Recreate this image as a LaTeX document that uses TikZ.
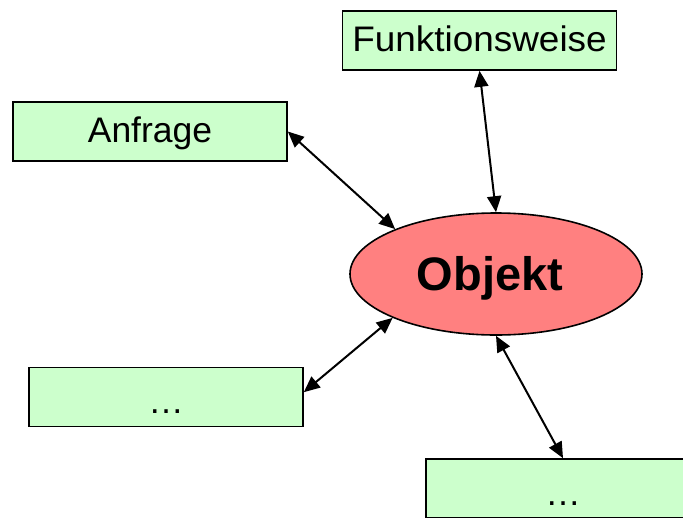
\documentclass[tikz,border=0pt]{standalone}
\usepackage{fontspec}
\setmainfont{Liberation Sans}
\usetikzlibrary{shapes.geometric,arrows.meta}
\definecolor{boxgreen}{HTML}{CCFFCC}
\definecolor{objred}{HTML}{FF8080}
\tikzset{
  infobox/.style={draw=black, line width=1.6pt, fill=boxgreen, rectangle,
    minimum width=274pt, minimum height=59pt, inner sep=0pt,
    font=\fontsize{35.5pt}{40pt}\selectfont, text height=26pt, text depth=5pt},
  dotsbox/.style={infobox, text height=38pt, text depth=5pt},
  objnode/.style={draw=black, line width=1.6pt, fill=objred, ellipse,
    minimum width=292pt, minimum height=122pt, inner sep=0pt},
  objtext/.style={font=\fontsize{47pt}{50pt}\selectfont\bfseries, inner sep=0pt},
  link/.style={line width=2pt, {Triangle[length=16pt,width=14pt]}-{Triangle[length=16pt,width=14pt]}}
}
\begin{document}
\begin{tikzpicture}[x=1pt,y=-1pt]
\useasboundingbox (0,0) rectangle (683,517);
\clip (0,0) rectangle (683,517);
\node[infobox] (fkt) at (479.5,40.5) {\scalebox{1.04}[1]{Funktionsweise}};
\node[infobox] (anf) at (150,131.5) {Anfrage};
\node[dotsbox] (dl) at (166,397) {…};
\node[dotsbox] (dr) at (563,488.5) {…};
\node[objnode] (obj) at (496,274) {};
\node[objtext, anchor=base] (objlabel) at (490,290) {Objekt};
\draw[link] (anf.east) -- (obj.156);
\draw[link] (fkt.south) -- (obj.north);
\draw[link] (dl.2) -- (obj.203);
\draw[link] (obj.south) -- (dr.north);
\end{tikzpicture}
\end{document}
